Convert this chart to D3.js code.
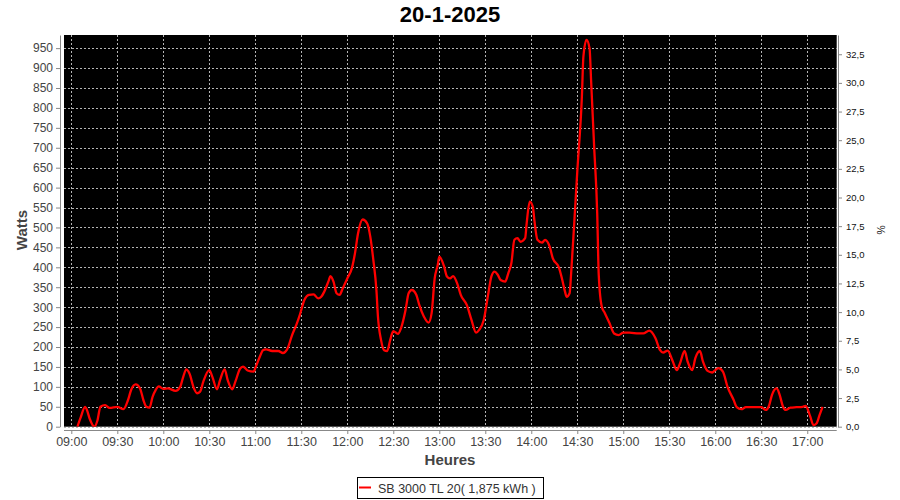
<!DOCTYPE html>
<html>
<head>
<meta charset="utf-8">
<script src="https://cdn.jsdelivr.net/npm/d3@7"></script>
<style>
  body { margin: 0; background: #fff; }
  svg { display: block; font-family: "Liberation Sans", Arial, sans-serif; }
</style>
</head>
<body>
<svg id="chart" width="900" height="500"></svg>
<script>
const title = "20-1-2025";
const legendLabel = "SB 3000 TL 20( 1,875 kWh )";
const xTitle = "Heures";
const yTitle = "Watts";
const y2Title = "%";

const times = ["09:04","09:06","09:09","09:10","09:12","09:15","09:17","09:19","09:22","09:25","09:30","09:34","09:37","09:39","09:42","09:45","09:47","09:49","09:51","09:53","09:55","09:57","10:00","10:03","10:08","10:11","10:13","10:15","10:17","10:20","10:22","10:24","10:26","10:30","10:32","10:35","10:37","10:40","10:42","10:45","10:47","10:50","10:52","10:55","10:59","11:00","11:03","11:05","11:07","11:11","11:15","11:18","11:21","11:24","11:27","11:29","11:32","11:35","11:38","11:41","11:43","11:45","11:48","11:49","11:51","11:53","11:55","11:57","12:00","12:03","12:05","12:07","12:10","12:13","12:15","12:17","12:19","12:20","12:22","12:24","12:26","12:28","12:30","12:33","12:35","12:38","12:40","12:42","12:45","12:47","12:50","12:53","12:55","12:57","12:59","13:00","13:03","13:05","13:07","13:09","13:12","13:14","13:18","13:21","13:24","13:26","13:29","13:32","13:34","13:36","13:38","13:40","13:43","13:45","13:47","13:49","13:51","13:53","13:56","13:57","13:59","14:01","14:02","14:04","14:07","14:09","14:12","14:14","14:18","14:20","14:22","14:23","14:25","14:26","14:28","14:30","14:33","14:34","14:36","14:38","14:39","14:41","14:43","14:44","14:46","14:48","14:51","14:54","14:57","15:00","15:04","15:10","15:13","15:17","15:21","15:24","15:26","15:29","15:32","15:35","15:37","15:40","15:42","15:45","15:47","15:50","15:52","15:55","15:58","16:00","16:02","16:05","16:08","16:12","16:14","16:17","16:20","16:27","16:30","16:33","16:35","16:37","16:40","16:42","16:44","16:46","16:49","16:53","16:57","16:59","17:02","17:04","17:06","17:08","17:10"];
const watts = [0,22,50,44,20,0,15,50,54,47,50,44,67,92,106,94,67,50,48,75,92,101,95,96,90,100,125,144,134,96,84,88,112,142,125,94,117,144,117,94,113,145,151,141,138,147,176,192,194,190,190,185,196,230,258,280,318,331,332,322,326,339,368,378,364,335,331,347,372,398,435,485,520,510,477,418,343,276,218,192,190,218,240,233,247,293,335,343,331,305,276,261,285,372,406,427,404,377,372,378,356,331,305,268,236,243,268,335,377,389,382,368,364,385,410,469,473,464,473,511,565,552,519,469,462,469,452,423,400,372,339,326,335,385,510,640,828,929,971,950,870,703,536,381,301,285,260,234,230,236,236,234,234,241,222,192,186,191,167,142,159,190,163,142,172,190,163,140,136,142,147,138,100,67,49,44,49,49,49,42,52,80,96,80,52,42,48,49,50,52,25,4,8,29,50];

const xTickLabels = ["09:00","09:30","10:00","10:30","11:00","11:30","12:00","12:30","13:00","13:30","14:00","14:30","15:00","15:30","16:00","16:30","17:00"];
const yTicks = [0,50,100,150,200,250,300,350,400,450,500,550,600,650,700,750,800,850,900,950];
const y2Ticks = [0,2.5,5,7.5,10,12.5,15,17.5,20,22.5,25,27.5,30,32.5];
const xDomain = ["08:55:14","17:19:12"];
const yMax = 983;
const y2Max = 34.18;

const parseHM = d3.timeParse("%H:%M");
const parseHMS = d3.timeParse("%H:%M:%S");
const data = times.map((t, i) => ({ t: parseHM(t), v: watts[i] }));

const plot = { left: 64, right: 836.7, top: 35, bottom: 426.7 };

const svg = d3.select("#chart");
svg.append("rect").attr("width", 900).attr("height", 500).attr("fill", "#fff");

const x = d3.scaleTime().domain(xDomain.map(parseHMS)).range([plot.left, plot.right]);
const y = d3.scaleLinear().domain([0, yMax]).range([plot.bottom, plot.top]);
const y2 = d3.scaleLinear().domain([0, y2Max]).range([plot.bottom, plot.top]);

// plot background
svg.append("rect")
  .attr("x", plot.left).attr("y", plot.top)
  .attr("width", plot.right - plot.left).attr("height", plot.bottom - plot.top)
  .attr("fill", "#000");

// gridlines
const grid = svg.append("g").attr("stroke", "#b4b4b4").attr("stroke-width", 1).attr("stroke-dasharray", "2,2");
grid.selectAll("line.h").data(yTicks).join("line")
  .attr("x1", plot.left).attr("x2", plot.right)
  .attr("y1", d => Math.round(y(d)) + 0.5).attr("y2", d => Math.round(y(d)) + 0.5);
grid.selectAll("line.v").data(xTickLabels).join("line")
  .attr("y1", plot.top).attr("y2", plot.bottom)
  .attr("x1", d => Math.round(x(parseHM(d))) + 0.5).attr("x2", d => Math.round(x(parseHM(d))) + 0.5);

// clip
svg.append("clipPath").attr("id", "clip").append("rect")
  .attr("x", plot.left).attr("y", plot.top)
  .attr("width", plot.right - plot.left).attr("height", plot.bottom - plot.top);

const line = d3.line().x(d => x(d.t)).y(d => y(d.v)).curve(d3.curveMonotoneX);
svg.append("path").datum(data)
  .attr("clip-path", "url(#clip)")
  .attr("fill", "none").attr("stroke", "#ff0000").attr("stroke-width", 2.3)
  .attr("stroke-linejoin", "round")
  .attr("d", line);

// axes
const axisColor = "#888";
function styleAxis(g, color, size) {
  g.select(".domain").attr("stroke", axisColor);
  g.selectAll(".tick line").attr("stroke", axisColor);
  g.selectAll(".tick text").attr("fill", color).attr("font-size", size)
    .attr("font-family", "'Liberation Sans', Arial, sans-serif");
}

const gLeft = svg.append("g").attr("transform", "translate(60,0)")
  .call(d3.axisLeft(y).tickValues(yTicks).tickSize(4).tickSizeOuter(0).tickPadding(3));
styleAxis(gLeft, "#444", 12);

const gBottom = svg.append("g").attr("transform", "translate(0,430)")
  .call(d3.axisBottom(x).tickValues(xTickLabels.map(parseHM)).tickFormat(d3.timeFormat("%H:%M"))
    .tickSize(4).tickSizeOuter(0).tickPadding(3));
gBottom.select(".domain").attr("d", `M${plot.left},0.5H${plot.right}`);
styleAxis(gBottom, "#444", 12.5);

const fmt = d3.format(".1f");
const gRight = svg.append("g").attr("transform", "translate(838,0)")
  .call(d3.axisRight(y2).tickValues(y2Ticks).tickFormat(d => fmt(d).replace(".", ","))
    .tickSize(4).tickSizeOuter(0).tickPadding(4));
styleAxis(gRight, "#111", 9.5);

// titles
svg.append("text").attr("x", 450).attr("y", 22).attr("text-anchor", "middle")
  .attr("font-size", 22).attr("font-weight", "bold").attr("fill", "#000").text(title);

svg.append("text").attr("x", 450).attr("y", 465).attr("text-anchor", "middle")
  .attr("font-size", 15).attr("font-weight", "bold").attr("fill", "#444").text(xTitle);

svg.append("text").attr("transform", "translate(27,230) rotate(-90)").attr("text-anchor", "middle")
  .attr("font-size", 15).attr("font-weight", "bold").attr("fill", "#444").text(yTitle);

svg.append("text").attr("transform", "translate(877,230) rotate(90)").attr("text-anchor", "middle")
  .attr("font-size", 10.5).attr("fill", "#111").text(y2Title);

// legend
const lg = svg.append("g");
lg.append("rect").attr("x", 357.5).attr("y", 477.5).attr("width", 186).attr("height", 21)
  .attr("fill", "#fff").attr("stroke", "#000").attr("stroke-width", 1);
lg.append("line").attr("x1", 359).attr("x2", 371).attr("y1", 487.5).attr("y2", 487.5)
  .attr("stroke", "#ff0000").attr("stroke-width", 2);
lg.append("text").attr("x", 378).attr("y", 492.5).attr("font-size", 12.5).attr("fill", "#333").text(legendLabel);
</script>
</body>
</html>
